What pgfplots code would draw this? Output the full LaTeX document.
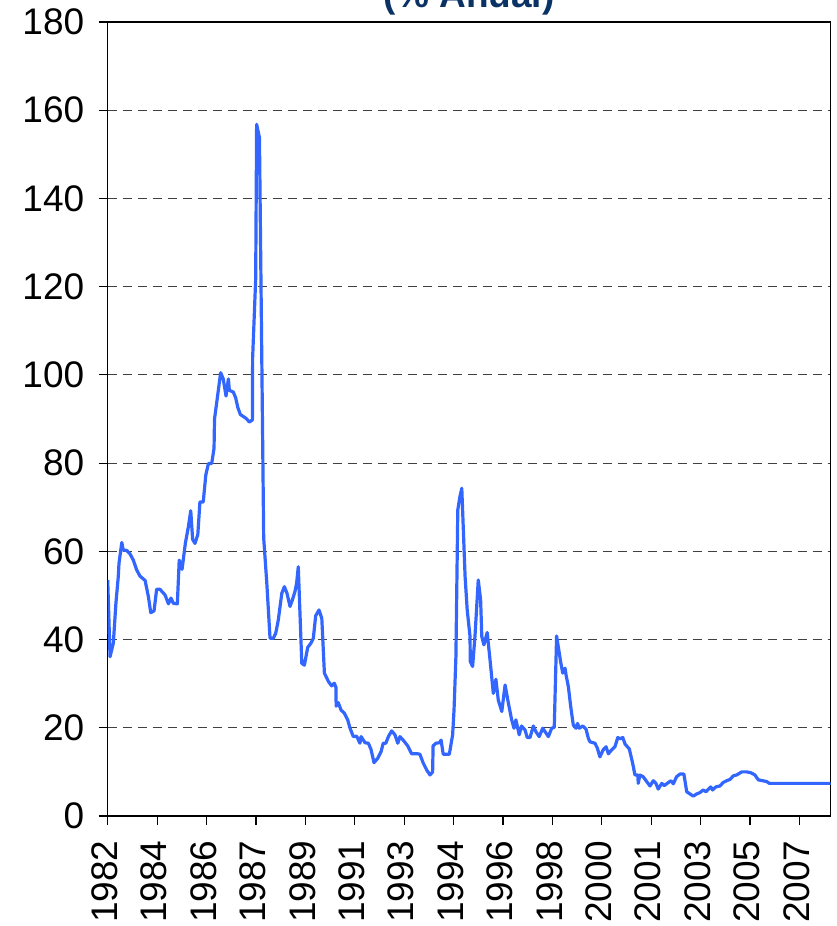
\documentclass[border=0pt]{standalone}
\usepackage{pgfplots}
\pgfplotsset{compat=1.18}
\usepackage{fontspec}
\setmainfont{Liberation Sans}
\definecolor{linecol}{RGB}{51,102,255}
\definecolor{titlecol}{RGB}{10,50,100}
\begin{document}
\begin{tikzpicture}
\begin{axis}[
  width=723pt, height=794pt, scale only axis,
  xmin=0, xmax=307.3, ymin=0, ymax=180,
  xtick={0,21,...,294},
  xticklabels={1982,1984,1986,1987,1989,1991,1993,1994,1996,1998,2000,2001,2003,2005,2007},
  ytick={0,20,...,180},
  tick align=outside, tick pos=left,
  major tick length=9pt,
  tick style={black, line width=1.2pt},
  ymajorgrids,
  major grid style={black!75, line width=1.2pt, dash pattern=on 9pt off 6pt},
  axis line style={black, line width=1.3pt},
  /pgf/number format/assume math mode=true,
  xticklabel shift=12pt,
  x tick label style={xshift=-3pt, rotate=90, anchor=east, font=\fontsize{37}{40}\selectfont},
  y tick label style={font=\fontsize{37}{40}\selectfont, xshift=-11pt},
]
\addplot[linecol, line width=3.2pt, line join=round] coordinates {
(0,53.5)(1,36.1)(2.4,39.2)(3.5,48.3)(4.5,54.3)(4.8,57.3)(6,62)(6.6,60.3)(8.1,60.2)(9.5,59.4)(10.9,58)(12.3,55.8)(13.7,54.4)(15.9,53.4)(17.3,49.7)(18.3,46.1)(19.7,46.5)(20.8,51.4)(22.2,51.4)(24.4,50.1)(25.8,48.1)(26.9,49.4)(27.9,48.2)(29.6,48.1)(30.4,58)(31.6,55.9)(33,61.8)(34.3,65.6)(35.3,69.2)(36.1,62.7)(37.1,61.8)(38.3,63.8)(39.2,71.2)(40.6,71.2)(41.7,77.3)(42.8,79.9)(44.2,79.9)(45.2,83.4)(45.4,90)(46.6,94.8)(48,100.5)(49.1,99.1)(50.3,95.2)(51.3,99.1)(51.7,96.5)(53.4,96.1)(54.4,94.8)(55.3,92.6)(56.4,91)(58.1,90.4)(59.1,90)(60.2,89.3)(61.5,89.8)(61.6,103.9)(62.3,113.5)(62.9,121.8)(63.3,156.8)(64.5,153.8)(66.3,63)(67.6,53)(69,40.3)(70.4,40.3)(71.4,41.4)(72.5,44.4)(74,50.5)(75.1,52)(76.2,50.5)(77.5,47.5)(78.5,49)(79.6,50.9)(80.3,52.8)(81,56.5)(82.5,34.6)(83.6,34.2)(85,38.2)(86.4,39.2)(87.4,40.3)(88.4,45.4)(89.8,46.7)(91,44.8)(92.1,32.4)(93.8,30.5)(95.2,29.5)(96.3,30.1)(97,29.2)(97.1,24.9)(98,25.7)(99.2,24)(100.6,23.3)(102,21.8)(103,19.9)(104.4,18)(105.8,18.1)(107.2,16.5)(107.7,18)(109.4,16.6)(110.8,16.5)(111.9,15.1)(113.2,12.1)(114.8,13.1)(116.2,14.6)(117.1,16.5)(118.2,16.5)(119.3,18)(120.7,19.3)(122.1,18.4)(123.3,16.5)(124.2,18)(125.6,17.2)(127.5,15.9)(129.2,14.1)(131.8,14.1)(132.7,14)(134.1,12)(135.6,10.4)(137,9.3)(138.1,10)(138.3,15.9)(139.5,16.5)(140.9,16.6)(141.7,17.2)(142.6,14)(145.2,14)(146.6,18.4)(147.2,24)(148,36.1)(148.8,69.4)(149.7,72.4)(150.5,74.3)(151.9,54.3)(152.8,46.7)(154,40.7)(154.1,35)(155.1,33.9)(156.1,40.7)(157.5,53.5)(158.5,49)(159,40.7)(159.9,38.8)(161.3,41.6)(162.5,35.4)(163.9,27.8)(165,31)(166,26.3)(167.5,23.7)(168.9,29.7)(170.3,25.6)(171.7,21.8)(172.7,19.9)(173.5,21.8)(174.9,18.4)(175.9,20.4)(177.4,19.5)(178.3,17.8)(179.5,17.8)(180.9,20.4)(182,19.1)(183.4,18)(184.9,19.9)(185.9,19.1)(187.3,18)(188.7,19.9)(189.8,20.1)(190.8,40.8)(191.5,38.4)(192.5,35)(193.4,32.4)(194.4,33.5)(194.8,32)(195.8,29.3)(196.8,24.8)(197.9,20.6)(199,19.9)(199.7,21)(200.4,19.9)(201.9,20.4)(203.3,19.7)(204.3,17.6)(205,16.8)(207.1,16.5)(208.1,15.4)(209.2,13.4)(210.6,15)(211.8,15.7)(212.8,14.1)(214.2,15)(215.6,15.7)(216.8,17.8)(217.7,17.5)(218.9,17.8)(219.9,16.3)(221.7,15.2)(223.1,12)(224.1,9.3)(225.3,9.3)(225.5,7.4)(226.2,9.3)(227.6,8.9)(229.1,7.8)(230.5,6.8)(231.9,8)(233,7.4)(234,6.1)(235.5,7.4)(236.6,6.9)(237.8,7.4)(239.4,8)(240.4,7.3)(241.8,8.9)(243.2,9.5)(244.9,9.5)(246.1,5.5)(247.5,5)(248.9,4.5)(250.3,5)(251.7,5.3)(253.1,5.9)(254.3,5.5)(256.3,6.6)(257.1,5.9)(258.5,6.6)(260.2,6.8)(261.6,7.6)(263.1,8)(264.5,8.3)(265.9,9.1)(267.3,9.3)(269.5,10)(271.6,10)(273.4,9.8)(275.1,9.3)(276.5,8.2)(278.4,8)(280.1,7.8)(281.2,7.4)(307.3,7.4)
};
\end{axis}
\node[anchor=base, font=\bfseries\fontsize{37}{44}\selectfont, text=titlecol] at ([yshift=14pt]current axis.north) {(\% Anual)};
\pgfresetboundingbox
\path[use as bounding box] ([xshift=-107.7pt, yshift=-110pt]current axis.south west) rectangle ([xshift=5.3pt, yshift=22pt]current axis.north east);
\end{tikzpicture}
\end{document}
